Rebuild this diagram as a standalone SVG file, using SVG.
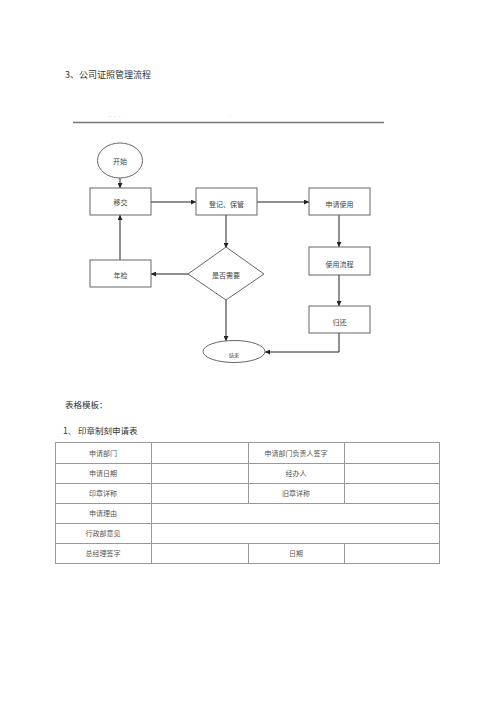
<svg xmlns="http://www.w3.org/2000/svg" width="500" height="707" viewBox="0 0 500 707">
<style>
text{font-family:"Noto Sans CJK SC","Liberation Serif",serif;fill:#444}
.lbl{font-size:7px;text-anchor:middle;dominant-baseline:central}
.box{fill:#fff;stroke:#666;stroke-width:1}
.con{fill:none;stroke:#222;stroke-width:1}
.grid{stroke:#999;stroke-width:1;fill:none}
.cell{font-size:7px;text-anchor:middle;dominant-baseline:central;fill:#555}
</style>
<defs>
<marker id="arr" viewBox="0 0 10 10" refX="10" refY="5" markerWidth="5" markerHeight="5" orient="auto">
<path d="M0,0 L10,5 L0,10 z" fill="#222"/>
</marker>
</defs>
<rect width="500" height="707" fill="#fff"/>
<text x="65" y="78" style="font-size:9px;fill:#333">3、公司证照管理流程</text>
<text x="108" y="119" style="font-size:4px;fill:#aaa">· · ·</text>
<text x="228" y="119" style="font-size:4px;fill:#ccc">·</text>
<line x1="73" y1="122.5" x2="384" y2="122.5" stroke="#777" stroke-width="1.5"/>

<g id="connectors">
<line class="con" x1="120" y1="178" x2="120" y2="188" marker-end="url(#arr)"/>
<line class="con" x1="151" y1="202" x2="196" y2="202" marker-end="url(#arr)"/>
<line class="con" x1="257" y1="202" x2="309" y2="202" marker-end="url(#arr)"/>
<line class="con" x1="226" y1="215" x2="226" y2="248" marker-end="url(#arr)"/>
<line class="con" x1="339" y1="215" x2="339" y2="247" marker-end="url(#arr)"/>
<line class="con" x1="339" y1="275" x2="339" y2="306" marker-end="url(#arr)"/>
<line class="con" x1="188" y1="274" x2="151" y2="274" marker-end="url(#arr)"/>
<line class="con" x1="120" y1="260" x2="120" y2="215" marker-end="url(#arr)"/>
<line class="con" x1="226" y1="300" x2="226" y2="341" marker-end="url(#arr)"/>
<polyline class="con" points="339,333 339,352 265,352" marker-end="url(#arr)"/>
</g>

<g id="start"><ellipse class="box" cx="120" cy="160.5" rx="22.5" ry="17.5"/><text class="lbl" x="120" y="161">开始</text></g>
<g id="transfer"><rect class="box" x="90" y="188" width="61" height="27"/><text class="lbl" x="120.5" y="202">移交</text></g>
<g id="register"><rect class="box" x="196" y="188" width="61" height="27"/><text class="lbl" x="226.5" y="204">登记、保管</text></g>
<g id="apply"><rect class="box" x="309" y="188" width="61" height="27"/><text class="lbl" x="339.5" y="204">申请使用</text></g>
<g id="process"><rect class="box" x="309" y="247" width="61" height="28"/><text class="lbl" x="339.5" y="264">使用流程</text></g>
<g id="return"><rect class="box" x="309" y="306" width="61" height="27"/><text class="lbl" x="339.5" y="322">归还</text></g>
<g id="annual"><rect class="box" x="90" y="260" width="61" height="27"/><text class="lbl" x="120.5" y="275">年检</text></g>
<g id="decision"><polygon class="box" points="226,247 264,274 226,300 188,274"/><text class="lbl" x="226" y="275">是否需要</text></g>
<g id="end"><ellipse class="box" cx="234" cy="351.5" rx="31" ry="11"/><text class="lbl" x="234" y="354" style="font-size:5px">结束</text></g>

<text x="65" y="408" style="font-size:8.5px;fill:#333">表格模板：</text>
<text x="63" y="434" style="font-size:8.5px;fill:#333">1、  印章制刻申请表</text>

<g id="table">
<rect class="grid" x="55.5" y="442.5" width="384" height="121"/>
<line class="grid" x1="55.5" y1="463.5" x2="439.5" y2="463.5"/>
<line class="grid" x1="55.5" y1="483.5" x2="439.5" y2="483.5"/>
<line class="grid" x1="55.5" y1="503.5" x2="439.5" y2="503.5"/>
<line class="grid" x1="55.5" y1="523.5" x2="439.5" y2="523.5"/>
<line class="grid" x1="55.5" y1="543.5" x2="439.5" y2="543.5"/>
<line class="grid" x1="151.5" y1="442.5" x2="151.5" y2="563.5"/>
<line class="grid" x1="248.5" y1="442.5" x2="248.5" y2="503.5"/>
<line class="grid" x1="248.5" y1="543.5" x2="248.5" y2="563.5"/>
<line class="grid" x1="344.5" y1="442.5" x2="344.5" y2="503.5"/>
<line class="grid" x1="344.5" y1="543.5" x2="344.5" y2="563.5"/>
<text class="cell" x="103" y="453">申请部门</text>
<text class="cell" x="296" y="453">申请部门负责人签字</text>
<text class="cell" x="103" y="473">申请日期</text>
<text class="cell" x="296" y="473">经办人</text>
<text class="cell" x="103" y="493">印章详称</text>
<text class="cell" x="296" y="493">旧章详称</text>
<text class="cell" x="103" y="513">申请理由</text>
<text class="cell" x="103" y="533">行政部意见</text>
<text class="cell" x="103" y="553">总经理签字</text>
<text class="cell" x="296" y="553">日期</text>
</g>
</svg>
